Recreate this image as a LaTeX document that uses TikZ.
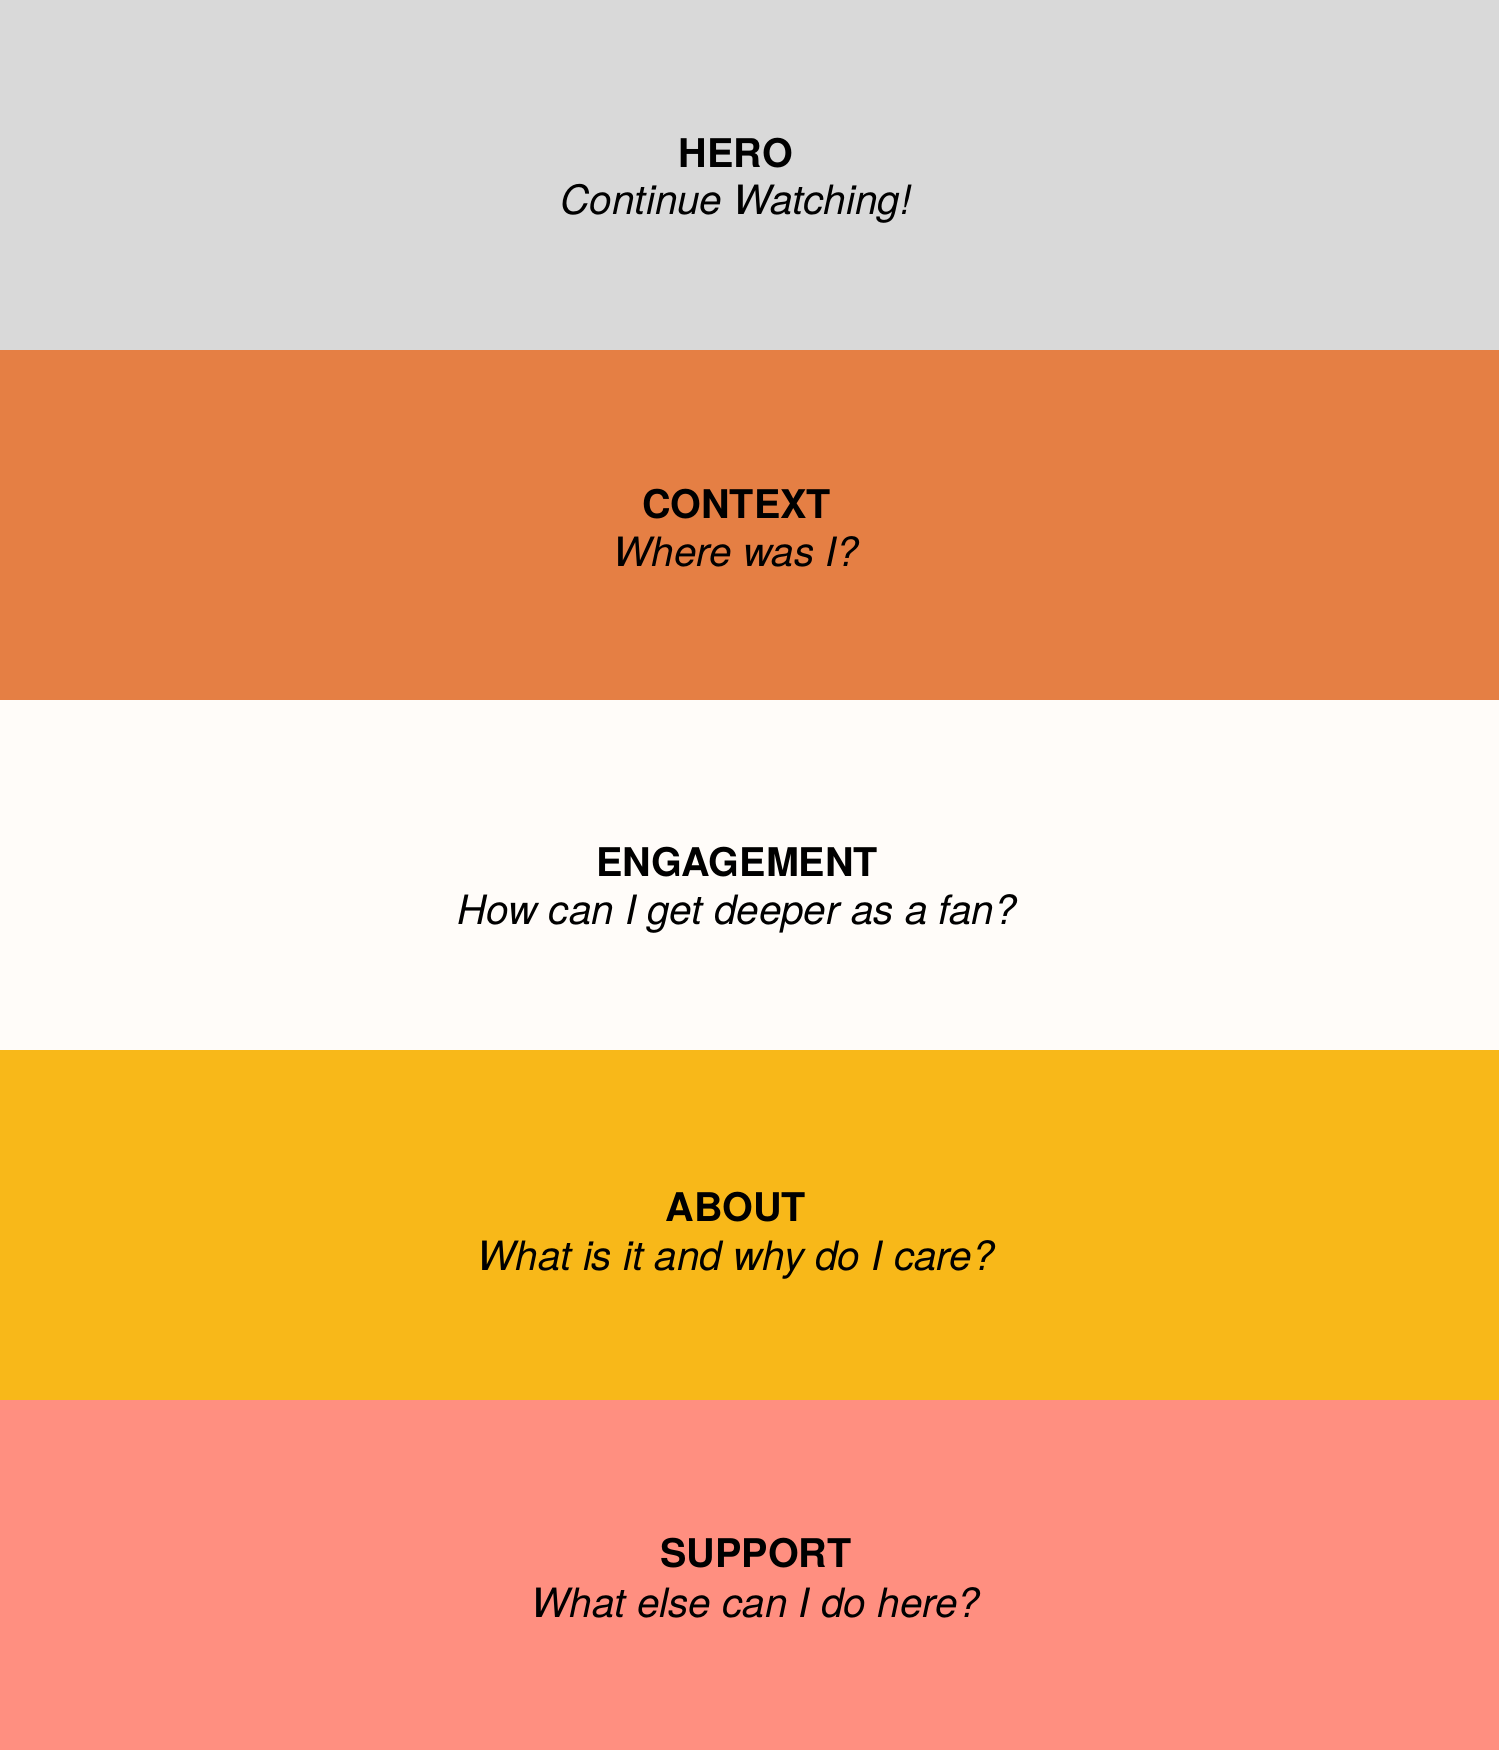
\documentclass[tikz,border=0pt]{standalone}
\usepackage{fontspec}
\setmainfont{TeX Gyre Heros}
\definecolor{herogray}{HTML}{D9D9D9}
\definecolor{contextorange}{HTML}{E57F44}
\definecolor{engagewhite}{HTML}{FFFCF9}
\definecolor{aboutyellow}{HTML}{F8B819}
\definecolor{supportsalmon}{HTML}{FF8F80}

\begin{document}
\begin{tikzpicture}[
  sectitle/.style={anchor=base, font=\fontsize{22.5}{27}\selectfont\bfseries},
  secquestion/.style={anchor=base, font=\fontsize{23}{27}\selectfont\itshape}]
	\useasboundingbox (0,0) rectangle (29.98,35);
	\fill[herogray] (0,28) rectangle (29.98,35);
	\fill[contextorange] (0,21) rectangle (29.98,28);
	\fill[engagewhite] (0,14) rectangle (29.98,21);
	\fill[aboutyellow] (0,7) rectangle (29.98,14);
	\fill[supportsalmon] (0,0) rectangle (29.98,7);
	\node[sectitle] (hero) at (14.72,31.65) {HERO};
	\node[secquestion] (heroq) at (14.72,30.7) {Continue Watching!};
	\node[sectitle] (context) at (14.73,24.62) {CONTEXT};
	\node[secquestion] (contextq) at (14.73,23.67) {Where was I?};
	\node[sectitle] (engage) at (14.74,17.47) {ENGAGEMENT};
	\node[secquestion] (engageq) at (14.74,16.51) {How can I get deeper as a fan?};
	\node[sectitle] (about) at (14.72,10.56) {ABOUT};
	\node[secquestion] (aboutq) at (14.72,9.59) {What is it and why do I care?};
	\node[sectitle] (support) at (15.12,3.64) {SUPPORT};
	\node[secquestion] (supportq) at (15.12,2.64) {What else can I do here?};
\end{tikzpicture}
\end{document}
